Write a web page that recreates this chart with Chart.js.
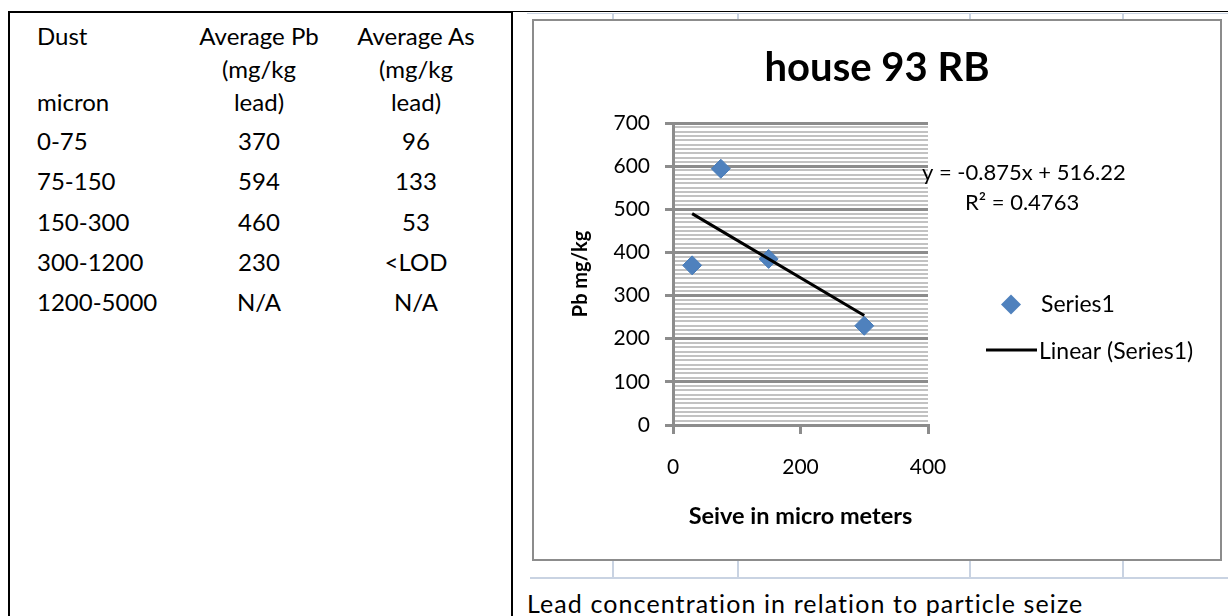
<!DOCTYPE html>
<html>
<head>
<meta charset="utf-8">
<script src="https://cdn.jsdelivr.net/npm/chart.js@4.4.1/dist/chart.umd.min.js"></script>
<style>
  body { margin: 0; width: 1228px; height: 616px; overflow: hidden; background: #fff; font-family: Lato, sans-serif; color: #000; position: relative; }
  .abs { position: absolute; box-sizing: border-box; }
  #tbl { left: 8px; top: 11px; width: 505px; height: 640px; border: 2px solid #000; border-bottom: none; }
  .cell { position: absolute; font-size: 24px; line-height: 30px; white-space: nowrap; }
  .c2 { width: 180px; margin-left: -90px; text-align: center; }
  .xl { background: #c9d3e2; }
  #box { left: 532px; top: 19px; width: 690px; height: 542px; border: 2px solid #8c8c8c; background: #fff; }
  #chart { display: block; }
  #caption { left: 527px; top: 589px; font-size: 25px; line-height: 28px; letter-spacing: 1.1px; white-space: nowrap; font-variant-ligatures: none; }
</style>
</head>
<body>
<div class="abs" id="tbl"></div>
<div class="abs" style="left:513px;top:11px;width:715px;height:1px;background:#000"></div>
<div class="abs xl" style="left:527px;top:13px;width:701px;height:1px"></div>
<div class="abs xl" style="left:530px;top:577px;width:698px;height:2px"></div>
<div id="xlines"></div>
<div class="abs" id="box"><canvas id="chart" width="686" height="538"></canvas></div>
<div class="abs" id="caption">Lead concentration in relation to particle seize</div>

<script>
// table next to the chart
const dustBins = ['0-75', '75-150', '150-300', '300-1200', '1200-5000'];
const avgPb = ['370', '594', '460', '230', 'N/A'];
const avgAs = ['96', '133', '53', '<LOD', 'N/A'];

// chart data
const seiveSize = [30, 75, 150, 300];
const leadPb = [370, 594, 385, 230];
const trendX = [30, 300];
const trendY = [490, 254];
const trendLabel = 'y = -0.875x + 516.22';
const r2Label = 'R\u00b2 = 0.4763';

// --- table ---
const tbl = document.getElementById('tbl');
function addCell(text, x, yc, centered) {
    const d = document.createElement('div');
    d.className = centered ? 'cell c2' : 'cell';
    d.style.left = (x - 10) + 'px';
    d.style.top = (yc - 15 - 13) + 'px';
    d.textContent = text;
    tbl.appendChild(d);
}
addCell('Dust', 37, 36, false);
addCell('micron', 37, 102, false);
['Average Pb', '(mg/kg', 'lead)'].forEach((t, i) => addCell(t, 259, 36 + i * 33, true));
['Average As', '(mg/kg', 'lead)'].forEach((t, i) => addCell(t, 416, 36 + i * 33, true));
dustBins.forEach((bin, i) => {
    const yc = 141 + i * 40.3;
    addCell(bin, 37, yc, false);
    addCell(avgPb[i], 259, yc, true);
    addCell(avgAs[i], 416, yc, true);
});

// faint sheet grid around the chart box
const xlines = document.getElementById('xlines');
[612, 737, 969, 1122].forEach((x) => {
    [[14, 5], [561, 16]].forEach(([top, h]) => {
        const d = document.createElement('div');
        d.className = 'abs xl';
        d.style.cssText += `left:${x}px;top:${top}px;width:2px;height:${h}px`;
        xlines.appendChild(d);
    });
});

// --- chart ---
const majorGrid = '#8c8c8c';
const minorGrid = '#c2c2c2';

const extras = {
    id: 'extras',
    afterDraw(chart) {
        const ctx = chart.ctx;
        ctx.save();
        ctx.font = '22px Lato';
        ctx.fillStyle = '#000';
        ctx.textBaseline = 'middle';
        ctx.fillText(trendLabel, 388, 152);
        ctx.fillText(r2Label, 431, 182);

        // legend
        const ds = chart.data.datasets;
        ctx.font = '23px Lato';
        ctx.fillStyle = '#4f81bd';
        ctx.beginPath();
        ctx.moveTo(477, 273.5);
        ctx.lineTo(487, 283.5);
        ctx.lineTo(477, 293.5);
        ctx.lineTo(467, 283.5);
        ctx.closePath();
        ctx.fill();
        ctx.fillStyle = '#000';
        ctx.fillText(ds[1].label, 507, 283.5);

        ctx.strokeStyle = '#000';
        ctx.lineWidth = 3;
        ctx.beginPath();
        ctx.moveTo(452, 329);
        ctx.lineTo(503, 329);
        ctx.stroke();
        ctx.fillText(ds[0].label, 505, 331);
        ctx.restore();
    }
};

const isMajor = (c) => c.tick && c.tick.value % 100 === 0;

new Chart(document.getElementById('chart'), {
    type: 'scatter',
    data: {
        datasets: [
            {
                type: 'line',
                label: 'Linear (Series1)',
                data: trendX.map((x, i) => ({ x, y: trendY[i] })),
                borderColor: '#000',
                borderWidth: 3,
                pointRadius: 0,
                order: 0
            },
            {
                label: 'Series1',
                data: seiveSize.map((x, i) => ({ x, y: leadPb[i] })),
                pointStyle: 'rectRot',
                pointRadius: 9.5,
                pointHoverRadius: 9.5,
                backgroundColor: '#4f81bd',
                borderColor: '#4a7ebb',
                borderWidth: 1,
                order: 1
            }
        ]
    },
    options: {
        responsive: false,
        animation: false,
        layout: { padding: 0 },
        font: { family: 'Lato' },
        plugins: {
            legend: { display: false },
            tooltip: { enabled: false },
            title: {
                display: true,
                text: 'house 93 RB',
                color: '#000',
                font: { family: 'Lato', size: 40, weight: 'bold' },
                padding: { top: 23, bottom: 31 }
            }
        },
        scales: {
            x: {
                type: 'linear',
                min: 0,
                max: 400,
                ticks: { stepSize: 200, padding: 21, color: '#000', font: { family: 'Lato', size: 21 } },
                grid: { drawOnChartArea: false, color: majorGrid, lineWidth: 3, tickLength: 9 },
                border: { color: majorGrid, width: 3 },
                title: {
                    display: true,
                    text: 'Seive in micro meters',
                    color: '#000',
                    font: { family: 'Lato', size: 23.5, weight: 'bold' },
                    padding: { top: 0, bottom: 28 }
                },
                afterFit: (s) => { s.height = 134; }
            },
            y: {
                min: 0,
                max: 700,
                ticks: {
                    stepSize: 10,
                    maxTicksLimit: 100,
                    autoSkip: false,
                    padding: 15,
                    color: '#000',
                    font: { family: 'Lato', size: 21 },
                    callback: (v) => (v % 100 === 0 ? v : '')
                },
                grid: {
                    color: (c) => (isMajor(c) ? majorGrid : minorGrid),
                    lineWidth: (c) => (isMajor(c) ? 3 : 2),
                    tickColor: (c) => (isMajor(c) ? majorGrid : 'rgba(0,0,0,0)'),
                    tickLength: 8
                },
                border: { color: majorGrid, width: 3 },
                title: {
                    display: true,
                    text: 'Pb mg/kg',
                    color: '#000',
                    font: { family: 'Lato', size: 20, weight: 'bold' },
                    padding: { top: 35, bottom: 0 }
                },
                afterFit: (s) => { s.width = 139; }
            },
            spacer: {
                type: 'linear',
                position: 'right',
                ticks: { display: false },
                grid: { display: false },
                border: { display: false },
                afterFit: (s) => { s.width = 292; }
            }
        }
    },
    plugins: [extras]
});
</script>
</body>
</html>
